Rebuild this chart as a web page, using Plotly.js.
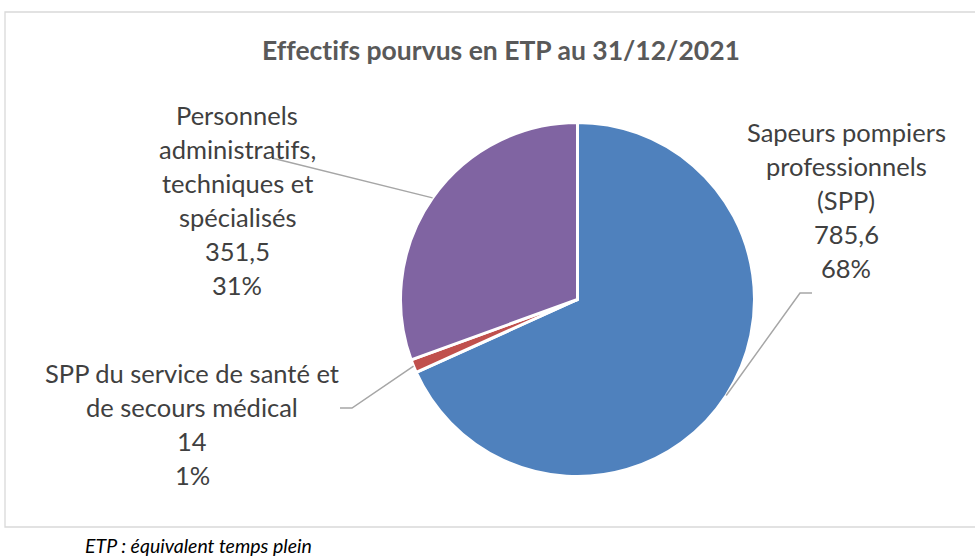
<!DOCTYPE html>
<html>
<head>
<meta charset="utf-8">
<script src="https://cdn.plot.ly/plotly-3.0.1.min.js"></script>
<style>html,body{margin:0;padding:0;background:#fff;}#chart{width:975px;height:558px;}
svg text, svg tspan{font-variant-ligatures:none !important;font-feature-settings:"liga" 0,"clig" 0,"dlig" 0,"calt" 0 !important;text-rendering:optimizeSpeed !important;}</style>
</head>
<body>
<div id="chart"></div>
<script>
// ---- data ----
const categories = [
  "Sapeurs pompiers professionnels (SPP)",
  "SPP du service de santé et de secours médical",
  "Personnels administratifs, techniques et spécialisés"
];
const labelLines = [
  ["Sapeurs pompiers", "professionnels", "(SPP)"],
  ["SPP du service de santé et", "de secours médical"],
  ["Personnels", "administratifs,", "techniques et", "spécialisés"]
];
const values = [785.6, 14, 351.5];
const colors = ["#4F81BD", "#C0504D", "#8064A2"];
const titleText = "Effectifs pourvus en ETP au 31/12/2021";
const footnote = "ETP : équivalent temps plein";

// ---- layout helpers (pixel -> paper) ----
const W = 975, H = 558;
const px = x => x / W;
const py = y => 1 - y / H;
const cx = 577.5, cy = 299.5, R = 177;

// label block placement (center x, first line y) and leader line elbows
const labelPos = [
  {x: 846, y: 132, elbow: [[800, 293], [812, 293]]},
  {x: 192, y: 373, elbow: [[352, 408], [340, 408]]},
  {x: 237, y: 115, elbow: [[272, 158]]}
];
const lineGap = 34;

const total = values.reduce((a, b) => a + b, 0);
const fmt = v => String(v).replace(".", ",");

const annotations = [];
const shapes = [];
let cum = 0;
values.forEach((v, i) => {
  const frac = v / total;
  const mid = (cum + frac / 2) * 2 * Math.PI;
  cum += frac;
  const sx = cx + R * Math.sin(mid);
  const sy = cy - R * Math.cos(mid);
  const lines = labelLines[i].concat([fmt(v), Math.round(frac * 100) + "%"]);
  const p = labelPos[i];
  lines.forEach((t, k) => {
    annotations.push({
      xref: "paper", yref: "paper", x: px(p.x), y: py(p.y + k * lineGap),
      xanchor: "center", yanchor: "middle", showarrow: false, text: t,
      font: {family: "Lato, 'Open Sans', sans-serif", size: 25.5, color: "#404040"}
    });
  });
  let path = "M" + px(sx) + "," + py(sy);
  p.elbow.forEach(pt => { path += " L" + px(pt[0]) + "," + py(pt[1]); });
  shapes.push({type: "path", xref: "paper", yref: "paper", path: path,
    line: {color: "#A6A6A6", width: 1.5}, layer: "above"});
});

// chart border
shapes.push({type: "rect", xref: "paper", yref: "paper",
  x0: px(5), x1: px(985), y0: py(527), y1: py(12),
  line: {color: "#D9D9D9", width: 1.3}, layer: "below"});

annotations.push({
  xref: "paper", yref: "paper", x: px(83), y: py(545), xanchor: "left", yanchor: "middle",
  showarrow: false, text: "<i>" + footnote + "</i>",
  font: {family: "Lato, 'Open Sans', sans-serif", size: 19.5, color: "#000000"}
});

const data = [{
  type: "pie",
  labels: categories,
  values: values,
  sort: false,
  direction: "clockwise",
  rotation: 0,
  textinfo: "none",
  hoverinfo: "label+value+percent",
  marker: {colors: colors, line: {color: "#FFFFFF", width: 3}},
  domain: {x: [px(cx - R), px(cx + R)], y: [py(cy + R), py(cy - R)]},
  showlegend: false
}];

const layout = {
  width: W, height: H,
  margin: {l: 0, r: 0, t: 0, b: 0},
  paper_bgcolor: "#FFFFFF",
  title: {
    text: "<b>" + titleText + "</b>",
    x: px(501), xanchor: "center", y: py(51), yanchor: "middle",
    font: {family: "Lato, 'Open Sans', sans-serif", size: 26.5, color: "#595959"}
  },
  annotations: annotations,
  shapes: shapes,
  showlegend: false
};

Plotly.newPlot("chart", data, layout, {displayModeBar: false, staticPlot: true});
</script>
</body>
</html>
